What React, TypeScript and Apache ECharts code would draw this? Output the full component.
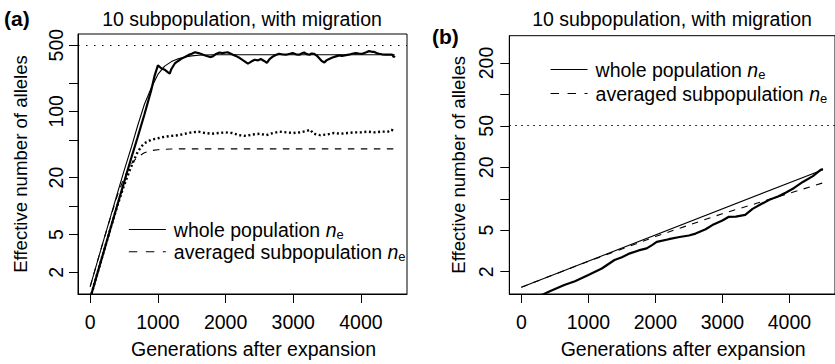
import React, { useEffect, useRef } from 'react';
import * as echarts from 'echarts';

const FONT = '"Liberation Sans", Arial, Helvetica, sans-serif';
const FS = 19.5;
const FS_Y = 18.6;

// ---------- Panel (a) ----------
const aTheoryWholeGen = [0, 100, 200, 300, 400, 500, 600, 700, 800, 900, 1000, 1100, 1200, 1300, 1400, 1500, 1600, 1800, 2000, 3000, 4500];
const aTheoryWholeVal = [1.41, 2.5, 4.4, 7.7, 13.5, 23.5, 40, 70, 118, 175, 245, 300, 335, 358, 374, 385, 391, 395, 396, 396, 396];

const aTheoryAvgGen = [0, 100, 200, 300, 400, 500, 600, 700, 800, 900, 1000, 1100, 1200, 1400, 4500];
const aTheoryAvgVal = [1.41, 2.5, 4.4, 7.6, 12.8, 20, 27.5, 33, 36.5, 38.5, 39.3, 39.7, 40, 40.2, 40.2];

const aSimWholeGen = [0, 100, 200, 300, 400, 500, 600, 700, 800, 900, 950, 1000, 1050, 1100, 1150, 1175, 1200, 1250, 1300, 1350,
  1400, 1450, 1500, 1550, 1600, 1670, 1700, 1770, 1810, 1850, 1910, 1950, 2030, 2110, 2150, 2210, 2260, 2330, 2380, 2430,
  2480, 2520, 2570, 2610, 2650, 2700, 2750, 2790, 2850, 2890, 2950, 2990, 3040, 3090, 3130, 3160, 3200, 3240, 3270, 3310,
  3350, 3380, 3420, 3460, 3490, 3530, 3580, 3630, 3680, 3720, 3780, 3820, 3870, 3920, 3970, 4020, 4070, 4120, 4160, 4190,
  4230, 4270, 4310, 4360, 4410, 4460, 4485, 4500];
const aSimWholeVal = [1.06, 1.88, 3.3, 5.8, 10.2, 17.8, 31, 53, 92, 165, 235, 306, 285, 275, 258, 250, 280, 320, 340, 360,
  375, 392, 405, 420, 412, 396, 388, 374, 380, 400, 418, 412, 420, 396, 385, 365, 345, 319, 335, 350,
  345, 357, 340, 324, 355, 380, 395, 405, 398, 396, 405, 412, 400, 396, 410, 418, 402, 396, 408, 405,
  385, 365, 340, 328, 345, 357, 370, 380, 390, 385, 392, 396, 405, 412, 408, 405, 418, 432, 425, 425,
  412, 405, 400, 396, 398, 396, 374, 385];

const aSimAvgGen = [0, 100, 200, 300, 400, 500, 600, 650, 700, 750, 800, 850, 900, 1000, 1100, 1200, 1300, 1400, 1500, 1600,
  1700, 1800, 1900, 2000, 2100, 2200, 2300, 2400, 2500, 2600, 2700, 2800, 2900, 3000, 3100, 3200, 3250, 3300, 3400, 3500,
  3600, 3700, 3800, 3900, 4000, 4100, 4200, 4300, 4400, 4450, 4500];
const aSimAvgVal = [1.06, 1.88, 3.3, 5.8, 10, 16.5, 25.5, 31, 37, 42, 46, 48, 50, 52, 54, 55, 56, 58, 60, 61,
  59, 58, 59, 60, 59, 56, 55, 57, 58, 56, 59, 61, 60, 59, 60, 62, 64, 58, 56, 57,
  59, 58, 59, 60, 60, 61, 60, 61, 61, 64, 61];

const aRefLine = 500;
const aYTicks = [2, 5, 10, 20, 50, 100, 200, 500];
const aYLabels = [2, 5, 20, 100, 500];
const aYRange = [1.18, 655];

// ---------- Panel (b) ----------
const bTheoryWholeGen = [0, 4500];
const bTheoryWholeVal = [1.42, 19];

const bTheoryAvgGen = [0, 1000, 1500, 2000, 2500, 3000, 3500, 4000, 4500];
const bTheoryAvgVal = [1.42, 2.52, 3.3, 4.35, 5.6, 7.2, 9.0, 11.3, 14.2];

const bSimWholeGen = [0, 330, 450, 640, 800, 1000, 1200, 1390, 1500, 1620, 1750, 1870, 1950, 2020, 2200, 2360, 2500, 2600, 2750, 2850,
  3000, 3090, 3200, 3340, 3450, 3580, 3700, 3830, 3950, 4070, 4200, 4350, 4470, 4500];
const bSimWholeVal = [1.0, 1.22, 1.32, 1.49, 1.62, 1.86, 2.15, 2.59, 2.75, 3.0, 3.2, 3.35, 3.6, 3.86, 4.1, 4.3, 4.45, 4.64, 5.1, 5.6,
  6.2, 6.7, 6.75, 7.0, 8.0, 8.9, 9.8, 10.5, 11.5, 12.7, 14.5, 16.5, 19, 19.3];

const bRefLine = 50;
const bYTicks = [2, 5, 10, 20, 50, 100, 200];
const bYLabels = [2, 5, 20, 50, 200];
const bYRange = [1.224, 365];

// ---------- shared ----------
const xTicks = [0, 1000, 2000, 3000, 4000];
const xRange = [-180, 4680];
const titleText = '10 subpopulation, with migration';
const xName = 'Generations after expansion';
const yName = 'Effective number of alleles';
const legendNames = ['whole population', 'averaged subpopulation'];

const toLog = (gen: number[], val: number[]) => gen.map((g, i) => [g, Math.log10(val[i])]);
const lg = (v: number) => Math.log10(v);

function makeX(gridIndex: number) {
  return {
    type: 'value', gridIndex, min: xRange[0], max: xRange[1],
    name: xName, nameLocation: 'middle', nameGap: 45,
    nameTextStyle: { fontSize: FS, fontFamily: FONT, color: '#000', padding: [0, 0, 0, 22] },
    axisLine: { show: true, onZero: false, lineStyle: { color: '#000', width: 1 } },
    axisTick: { show: true, inside: false, length: 9, lineStyle: { color: '#000', width: 1 }, customValues: xTicks },
    axisLabel: { show: true, margin: 18, fontSize: FS, fontFamily: FONT, color: '#000', customValues: xTicks, formatter: (v: number) => String(Math.round(v)) },
    splitLine: { show: false },
  };
}

function makeY(gridIndex: number, range: number[], ticks: number[], labels: number[], nameGap: number, margin: number) {
  return {
    type: 'value', gridIndex, min: lg(range[0]), max: lg(range[1]),
    name: yName, nameLocation: 'middle', nameGap,
    nameTextStyle: { fontSize: FS_Y, fontFamily: FONT, color: '#000' },
    axisLine: { show: true, onZero: false, lineStyle: { color: '#000', width: 1 } },
    axisTick: { show: true, inside: false, length: 9, lineStyle: { color: '#000', width: 1 }, customValues: ticks.map((t) => lg(t)) },
    axisLabel: {
      show: true, rotate: 90, margin, fontSize: FS, fontFamily: FONT, color: '#000',
      customValues: labels.map((t) => lg(t)),
      formatter: (v: number) => String(Math.round(Math.pow(10, v))),
    },
    splitLine: { show: false },
  };
}

function lineSeries(name: string, idx: number, data: number[][], width: number, type: any, extra: any = {}) {
  return {
    type: 'line', name, xAxisIndex: idx, yAxisIndex: idx, data,
    symbol: 'none', showSymbol: false, silent: true, clip: true,
    lineStyle: { color: '#000', width, type, cap: 'butt' },
    itemStyle: { color: '#000' },
    emphasis: { disabled: true },
    ...extra,
  };
}

function refMark(value: number, dash: number[]) {
  return {
    markLine: {
      silent: true, symbol: ['none', 'none'], label: { show: false },
      lineStyle: { color: '#000', width: 1.2, type: dash },
      emphasis: { disabled: true },
      data: [{ yAxis: lg(value) }],
    },
  };
}

const rich = {
  t: { fontSize: FS, fontFamily: FONT, color: '#000', lineHeight: 23, padding: [0, 0, 0, 3] },
  n: { fontSize: FS, fontFamily: FONT, fontStyle: 'italic', color: '#000', lineHeight: 23 },
  s: { fontSize: 13, fontFamily: FONT, color: '#000', lineHeight: 14, padding: [9, 0, 0, 0] },
};

const legendDash: any[] = ['solid', [8.5, 8.5]];

function makeLegend(left: number, top: number, gap: number) {
  return {
    orient: 'vertical', left, top, padding: 0, itemGap: gap, itemWidth: 37, itemHeight: 20,
    selectedMode: false,
    data: legendNames.map((name, i) => ({
      name,
      lineStyle: { color: '#000', width: 1.1, type: legendDash[i], cap: 'butt' },
    })),
    itemStyle: { opacity: 0, color: 'rgba(0,0,0,0)', borderWidth: 0 },
    formatter: (name: string) => `{t|${name} }{n|n}{s|e}`,
    textStyle: { rich },
  };
}

export default function App() {
  const ref = useRef<HTMLDivElement>(null);
  useEffect(() => {
    if (!ref.current) return;
    const chart = echarts.init(ref.current, null, { renderer: 'svg' });
    const option: any = {
      animation: false,
      backgroundColor: '#fff',
      grid: [
        { left: 78, top: 34, width: 329, height: 260, show: true, borderColor: '#000', borderWidth: 1, backgroundColor: 'transparent', containLabel: false },
        { left: 509.3, top: 35.7, width: 330.2, height: 258.3, show: true, borderColor: '#000', borderWidth: 1, backgroundColor: 'transparent', containLabel: false },
      ],
      xAxis: [makeX(0), makeX(1)],
      yAxis: [
        makeY(0, aYRange, aYTicks, aYLabels, 48, 12),
        makeY(1, bYRange, bYTicks, bYLabels, 41, 13.5),
      ],
      legend: [makeLegend(128.3, 218.5, 0.3), makeLegend(550, 58.5, 2)],
      series: [
        lineSeries(legendNames[0], 0, toLog(aTheoryWholeGen, aTheoryWholeVal), 1.1, 'solid', refMark(aRefLine, [1.5, 6.5])),
        lineSeries(legendNames[1], 0, toLog(aTheoryAvgGen, aTheoryAvgVal), 1.1, [6.5, 6.5]),
        lineSeries('simulated averaged subpopulation', 0, toLog(aSimAvgGen, aSimAvgVal), 2.4, [2, 2.6]),
        lineSeries('simulated whole population', 0, toLog(aSimWholeGen, aSimWholeVal), 2.2, 'solid'),
        lineSeries(legendNames[0], 1, toLog(bTheoryWholeGen, bTheoryWholeVal), 1.1, 'solid', refMark(bRefLine, [1.5, 4.5])),
        lineSeries(legendNames[1], 1, toLog(bTheoryAvgGen, bTheoryAvgVal), 1.1, [6.5, 6.5]),
        lineSeries('simulated whole population', 1, toLog(bSimWholeGen, bSimWholeVal), 2.2, 'solid'),
      ],
      graphic: [
        { type: 'text', x: 242, y: 18.5, silent: true, style: { text: titleText, font: `${FS}px ${FONT}`, fill: '#000', align: 'center', verticalAlign: 'middle' } },
        { type: 'text', x: 672, y: 19, silent: true, style: { text: titleText, font: `${FS}px ${FONT}`, fill: '#000', align: 'center', verticalAlign: 'middle' } },
        { type: 'text', x: 4, y: 18.5, silent: true, style: { text: '(a)', font: `bold 21px ${FONT}`, fill: '#000', align: 'left', verticalAlign: 'middle' } },
        { type: 'text', x: 432, y: 36.5, silent: true, style: { text: '(b)', font: `bold 21px ${FONT}`, fill: '#000', align: 'left', verticalAlign: 'middle' } },
      ],
    };
    chart.setOption(option);
    return () => chart.dispose();
  }, []);
  return <div ref={ref} style={{ position: 'fixed', left: 0, top: 0, width: 835, height: 364, background: '#fff' }} />;
}
